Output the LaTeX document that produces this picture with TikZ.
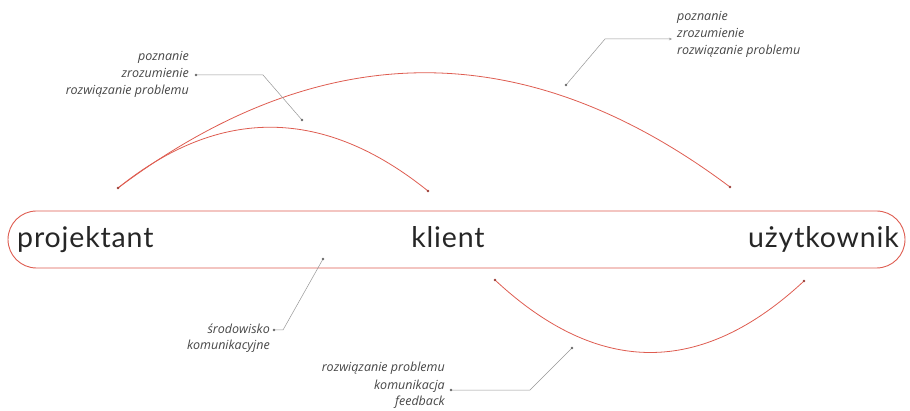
\documentclass[tikz,border=0pt]{standalone}
\usepackage{fontspec}
\setmainfont{Lato}
\newfontfamily\rolefont[LetterSpace=3]{Lato}
\newfontfamily\notefont{Open Sans}
\usetikzlibrary{arrows.meta}

\definecolor{arcred}{RGB}{222,92,80}
\definecolor{leadgray}{RGB}{150,150,150}
\definecolor{notegray}{RGB}{70,70,70}

\begin{document}
\begin{tikzpicture}[
  x=1pt, y=-1pt,
  role/.style={inner sep=0pt, font=\rolefont\fontsize{28.5}{32}\selectfont, text=black!85},
  note/.style={inner sep=0pt, align=right, text=notegray, font=\notefont\fontsize{12.5}{17}\selectfont\itshape},
  arc/.style={arcred, line width=0.8pt},
  lead/.style={leadgray, line width=0.5pt},
  tip/.style={circle, fill=#1, inner sep=0pt, minimum size=2.6pt}
]
\useasboundingbox (0,0) rectangle (910,411);

% Band with the three roles
\node[draw=arcred, line width=0.9pt, rounded corners=28.5pt,
      minimum width=897pt, minimum height=57pt] (band) at (456.5,239.5) {};
\node[role, anchor=base west] (proj) at (17,248) {projektant};
\node[role, anchor=base] (klient) at (448,248) {klient};
\node[role, anchor=base east] (user) at (899,248) {użytkownik};

% Arc end points
\coordinate (pa) at (118,188);
\coordinate (ka) at (428,191);
\coordinate (ua) at (730,187);
\coordinate (kb) at (495,280);
\coordinate (ub) at (804,281);

% Arcs
\draw[arc] (pa) .. controls +(103,-83) and +(-103,-83) .. (ka);
\draw[arc] (pa) .. controls +(204,-153) and +(-204,-153) .. (ua);
\draw[arc] (kb) .. controls +(103,96) and +(-103,96) .. (ub);
\foreach \p in {pa,ka,ua,kb,ub}
  \node[tip=arcred!70!black] at (\p) {};

% Notes (base = last line)
\node[note, anchor=base east] (noteA) at (189,95) {poznanie\\zrozumienie\\rozwiązanie problemu};
\node[note, anchor=base west, align=left] (noteB) at (677,55) {poznanie\\zrozumienie\\rozwiązanie problemu};
\node[note, anchor=base east] (noteC) at (270,350) {środowisko\\komunikacyjne};
\node[note, anchor=base east] (noteD) at (445,406) {rozwiązanie problemu\\komunikacja\\feedback};

% Leader points
\coordinate (a0) at (196,75);  \coordinate (a1) at (263,75);  \coordinate (a2) at (302,120);
\coordinate (b0) at (672,39);  \coordinate (b1) at (605,39);  \coordinate (b2) at (566,85);
\coordinate (c0) at (274,330); \coordinate (c1) at (283,330); \coordinate (c2) at (323,259);
\coordinate (d0) at (451,390); \coordinate (d1) at (530,390); \coordinate (d2) at (572,348);

% Leaders
\draw[lead] (a0) -- (a1) -- (a2);
\draw[lead, {Stealth[length=3pt,width=2.5pt]}-] (b0) -- (b1) -- (b2);
\draw[lead] (c0) -- (c1) -- (c2);
\draw[lead] (d0) -- (d1) -- (d2);
\foreach \p in {a0,a2,b2,c0,c2,d0,d2}
  \node[tip=leadgray!70!black] at (\p) {};

\end{tikzpicture}
\end{document}
